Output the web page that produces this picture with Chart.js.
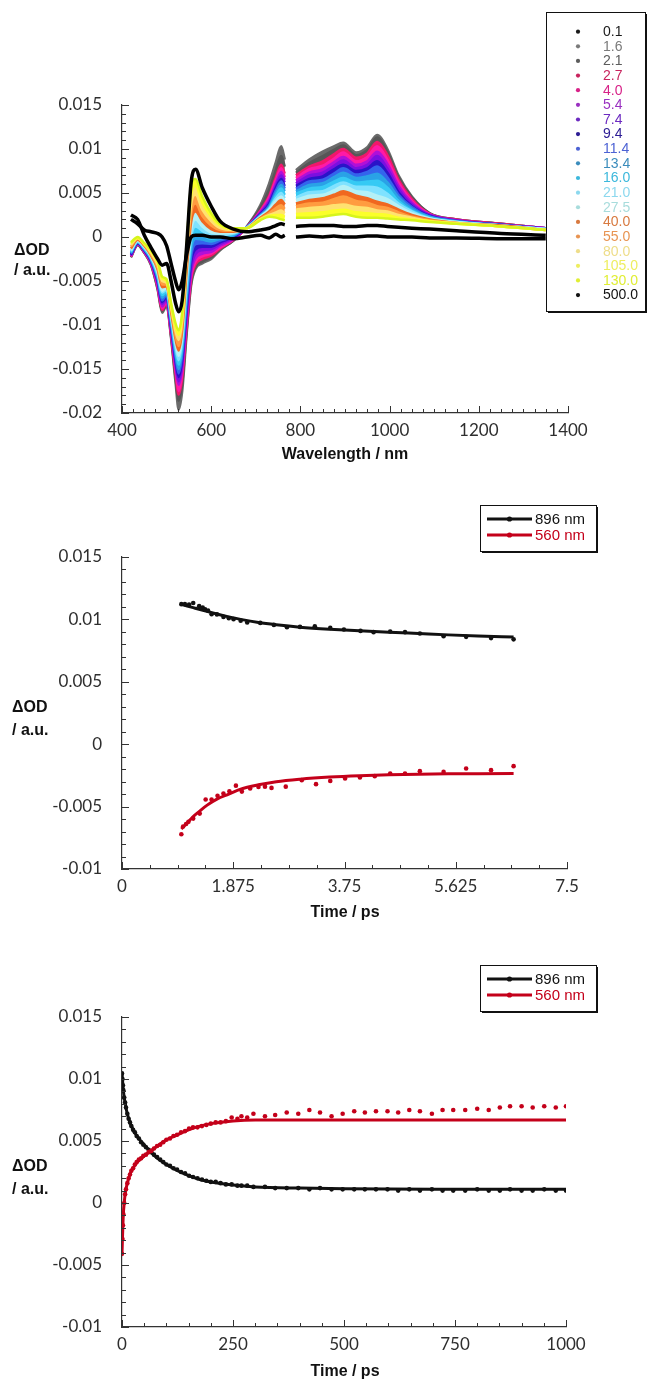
<!DOCTYPE html>
<html>
<head>
<meta charset="utf-8">
<title>Transient absorption spectra and kinetics</title>
<script src="https://cdn.jsdelivr.net/npm/chart.js@4.4.1/dist/chart.umd.min.js"></script>
<style>
  html, body { margin: 0; padding: 0; background: #fff; }
  body { width: 648px; height: 1381px; position: relative; overflow: hidden; }
  canvas { position: absolute; left: 0; }
</style>
</head>
<body>
<canvas id="spectra" width="648" height="470" style="top:0"></canvas>
<canvas id="early" width="648" height="460" style="top:470px"></canvas>
<canvas id="late" width="648" height="451" style="top:930px"></canvas>
<script>
// ---------- Transient spectra: probe wavelength grid (nm); null marks the detector gap ----------
const wavelength = [420,435,450,465,480,490,500,510,520,527,535,545,555,565,580,600,620,650,680,710,730,745,757,765,775,790,820,850,875,896,925,950,972,995,1020,1050,1090,1150,1250,1350];

// pump-probe delays (ps)
const delays = ['0.1','1.6','2.1','2.7','4.0','5.4','7.4','9.4','11.4','13.4','16.0','21.0','27.5','40.0','55.0','80.0','105.0','130.0','500.0'];

// ΔOD at each delay
const od_0p1   = [0.002,0.0015,0.0008,0.0006,0.0004,0,-0.001,-0.003,-0.005,-0.006,-0.005,-0.002,0,0.0002,0.0002,0,0,-0.0002,0,0.0002,-0.0001,0.0003,0,0.0002,null,0,0.0001,0,0.0001,0,0,0.0001,0.0001,0,0,0,-0.0001,-0.0001,-0.0002,-0.0002];
const od_1p6   = [-0.0023,-0.0009,-0.0018,-0.0032,-0.006,-0.0086,-0.0078,-0.0115,-0.0165,-0.0196,-0.0175,-0.011,-0.0055,-0.0036,-0.003,-0.0025,-0.0015,-0.0004,0.0012,0.0036,0.0061,0.0085,0.0103,0.0088,null,0.0076,0.0088,0.0097,0.0103,0.0107,0.0096,0.0102,0.0116,0.01,0.007,0.0046,0.0027,0.002,0.0015,0.001];
const od_2p1   = [-0.0023,-0.0009,-0.0018,-0.0031,-0.0059,-0.0084,-0.0077,-0.0113,-0.016,-0.0186,-0.0167,-0.0106,-0.0052,-0.0034,-0.0028,-0.0023,-0.0014,-0.0004,0.0012,0.0033,0.0054,0.0076,0.0092,0.008,null,0.0073,0.0084,0.0092,0.0099,0.0104,0.0093,0.0099,0.0113,0.0097,0.0068,0.0045,0.0027,0.002,0.0015,0.001];
const od_2p7   = [-0.0022,-0.0008,-0.0017,-0.003,-0.0057,-0.0083,-0.0075,-0.0111,-0.0155,-0.0179,-0.016,-0.0101,-0.0048,-0.0031,-0.0025,-0.0021,-0.0013,-0.0003,0.0011,0.003,0.0047,0.0068,0.0082,0.0072,null,0.007,0.008,0.0086,0.0094,0.01,0.009,0.0095,0.0108,0.0093,0.0065,0.0043,0.0026,0.002,0.0015,0.001];
const od_4p0   = [-0.0022,-0.0008,-0.0017,-0.003,-0.0056,-0.0081,-0.0074,-0.0109,-0.0151,-0.0175,-0.0155,-0.0096,-0.0045,-0.0028,-0.0022,-0.0019,-0.0012,-0.0003,0.0011,0.0029,0.0045,0.0065,0.0078,0.0068,null,0.0067,0.0077,0.0081,0.0089,0.0096,0.0086,0.0091,0.0103,0.0088,0.0062,0.0041,0.0026,0.0019,0.0014,0.001];
const od_5p4   = [-0.0021,-0.0008,-0.0016,-0.0029,-0.0054,-0.0079,-0.0072,-0.0106,-0.0147,-0.0168,-0.0149,-0.0091,-0.004,-0.0024,-0.0019,-0.0017,-0.001,-0.0002,0.0011,0.0028,0.0042,0.0061,0.0074,0.0065,null,0.0064,0.0073,0.0077,0.0085,0.0091,0.0082,0.0086,0.0097,0.0083,0.0058,0.0039,0.0025,0.0019,0.0014,0.001];
const od_7p4   = [-0.0021,-0.0007,-0.0016,-0.0028,-0.0052,-0.0076,-0.007,-0.0104,-0.0143,-0.0164,-0.0144,-0.0086,-0.0035,-0.0019,-0.0015,-0.0014,-0.0008,-0.0001,0.0011,0.0027,0.004,0.0058,0.007,0.0062,null,0.0061,0.007,0.0073,0.0081,0.0087,0.0078,0.0082,0.0092,0.0078,0.0055,0.0037,0.0025,0.0019,0.0014,0.001];
const od_9p4   = [-0.002,-0.0007,-0.0015,-0.0027,-0.005,-0.0074,-0.0068,-0.0101,-0.014,-0.0159,-0.0139,-0.008,-0.0028,-0.0014,-0.0011,-0.0011,-0.0006,0,0.0011,0.0026,0.0038,0.0056,0.0066,0.0058,null,0.0058,0.0066,0.0069,0.0077,0.0082,0.0075,0.0078,0.0086,0.0073,0.0051,0.0035,0.0024,0.0018,0.0014,0.0009];
const od_11p4  = [-0.0019,-0.0006,-0.0014,-0.0026,-0.0048,-0.0072,-0.0066,-0.0099,-0.0136,-0.0155,-0.0134,-0.0074,-0.0022,-0.0008,-0.0007,-0.0008,-0.0004,0.0001,0.0011,0.0025,0.0036,0.0053,0.0063,0.0055,null,0.0055,0.0063,0.0065,0.0072,0.0078,0.0071,0.0074,0.008,0.0068,0.0048,0.0034,0.0023,0.0018,0.0014,0.0009];
const od_13p4  = [-0.0018,-0.0006,-0.0014,-0.0025,-0.0046,-0.0069,-0.0064,-0.0096,-0.0132,-0.015,-0.0128,-0.0067,-0.0015,-0.0002,-0.0003,-0.0005,-0.0002,0.0002,0.0011,0.0024,0.0034,0.005,0.0059,0.0052,null,0.0052,0.0059,0.0061,0.0068,0.0073,0.0067,0.0069,0.0072,0.0062,0.0045,0.0032,0.0023,0.0018,0.0013,0.0009];
const od_16p0  = [-0.0017,-0.0005,-0.0013,-0.0024,-0.0044,-0.0066,-0.0062,-0.0093,-0.0128,-0.0145,-0.0123,-0.006,-0.0007,0.0005,0.0002,-0.0002,0,0.0003,0.0011,0.0024,0.0033,0.0047,0.0055,0.0048,null,0.0049,0.0055,0.0057,0.0063,0.0067,0.0062,0.0063,0.0064,0.0056,0.0041,0.003,0.0022,0.0017,0.0013,0.0009];
const od_21p0  = [-0.0016,-0.0005,-0.0012,-0.0023,-0.0042,-0.0063,-0.006,-0.009,-0.0124,-0.014,-0.0117,-0.0053,0,0.0012,0.0007,0.0002,0.0002,0.0004,0.0011,0.0023,0.0032,0.0044,0.005,0.0044,null,0.0045,0.0051,0.0052,0.0058,0.0062,0.0057,0.0057,0.0056,0.0049,0.0038,0.0029,0.0021,0.0017,0.0013,0.0009];
const od_27p5  = [-0.0015,-0.0004,-0.0011,-0.0022,-0.004,-0.0061,-0.0058,-0.0088,-0.012,-0.0135,-0.0112,-0.0046,0.0008,0.002,0.0012,0.0005,0.0004,0.0005,0.001,0.0023,0.0031,0.0041,0.0046,0.0041,null,0.0042,0.0047,0.0048,0.0053,0.0058,0.0052,0.0051,0.0047,0.0043,0.0035,0.0027,0.0021,0.0017,0.0013,0.0009];
const od_40p0  = [-0.0013,-0.0003,-0.001,-0.0021,-0.0037,-0.0057,-0.0056,-0.0085,-0.0116,-0.0129,-0.0106,-0.0038,0.0017,0.0029,0.0018,0.0009,0.0006,0.0006,0.001,0.0022,0.0029,0.0037,0.0042,0.0037,null,0.0038,0.0042,0.0044,0.0048,0.0052,0.0047,0.0044,0.004,0.0037,0.0031,0.0025,0.002,0.0016,0.0013,0.0008];
const od_55p0  = [-0.0011,-0.0002,-0.0009,-0.002,-0.0035,-0.0054,-0.0054,-0.0082,-0.0112,-0.0124,-0.01,-0.003,0.0027,0.0038,0.0024,0.0013,0.0008,0.0007,0.001,0.0021,0.0027,0.0033,0.0036,0.0032,null,0.0035,0.0038,0.0039,0.0043,0.0046,0.0041,0.0039,0.0035,0.0033,0.0028,0.0023,0.0019,0.0016,0.0012,0.0008];
const od_80p0  = [-0.0009,-0.0001,-0.0008,-0.0018,-0.0032,-0.005,-0.0052,-0.0079,-0.0107,-0.0117,-0.0094,-0.0021,0.0037,0.0048,0.0031,0.0018,0.001,0.0008,0.001,0.002,0.0025,0.0028,0.003,0.0027,null,0.0031,0.0033,0.0034,0.0036,0.0037,0.0034,0.0033,0.003,0.0029,0.0025,0.0022,0.0018,0.0016,0.0012,0.0008];
const od_105p0 = [-0.0007,-0.0001,-0.0008,-0.0016,-0.0029,-0.0047,-0.005,-0.0077,-0.0102,-0.0111,-0.0089,-0.0014,0.0048,0.0058,0.0039,0.0023,0.0013,0.0009,0.001,0.002,0.0024,0.0025,0.0025,0.0023,null,0.0026,0.0027,0.0028,0.003,0.0031,0.0028,0.0027,0.0026,0.0025,0.0022,0.002,0.0018,0.0015,0.0012,0.0008];
const od_130p0 = [-0.0006,0,-0.0007,-0.0015,-0.0027,-0.0045,-0.0048,-0.0075,-0.0098,-0.0106,-0.0085,-0.0008,0.0058,0.0066,0.0046,0.0027,0.0015,0.001,0.001,0.0019,0.0023,0.0022,0.002,0.0019,null,0.0022,0.0022,0.0023,0.0025,0.0026,0.0023,0.0022,0.0022,0.0021,0.002,0.0019,0.0017,0.0015,0.0012,0.0008];
const od_500p0 = [0.0025,0.002,0.0002,-0.0012,-0.0025,-0.0032,-0.003,-0.005,-0.0075,-0.0085,-0.0072,-0.001,0.0062,0.0077,0.0056,0.0035,0.0018,0.0009,0.0006,0.0008,0.001,0.0013,0.0015,0.0014,null,0.0012,0.0013,0.0013,0.0013,0.0012,0.0012,0.0013,0.0013,0.0012,0.0011,0.001,0.0009,0.0007,0.0004,0.0002];

// ---------- Early kinetics (0 - 7.5 ps) ----------
const early_t896  = [1.00,1.06,1.13,1.20,1.30,1.36,1.40,1.45,1.51,1.60,1.71,1.80,1.88,2.00,2.11,2.33,2.56,2.78,3.00,3.25,3.51,3.74,4.02,4.24,4.52,4.77,5.02,5.42,5.80,6.22,6.60];
const early_od896 = [0.01122,0.01122,0.01118,0.01132,0.01106,0.01095,0.0108,0.0107,0.01042,0.0104,0.0102,0.0101,0.01002,0.0099,0.00975,0.00972,0.00956,0.00937,0.0094,0.00945,0.00932,0.00919,0.00908,0.00898,0.00903,0.00898,0.00887,0.00865,0.0086,0.0085,0.0084];
const early_t560  = [1.00,1.03,1.08,1.12,1.20,1.31,1.41,1.51,1.61,1.71,1.81,1.92,2.02,2.16,2.30,2.41,2.52,2.76,3.03,3.27,3.51,3.76,4.01,4.26,4.52,4.77,5.02,5.42,5.80,6.22,6.60];
const early_od560 = [-0.00721,-0.0066,-0.0064,-0.00622,-0.00596,-0.00556,-0.00443,-0.00443,-0.00414,-0.00395,-0.00377,-0.00332,-0.0038,-0.00355,-0.00342,-0.0034,-0.0035,-0.0034,-0.00288,-0.0032,-0.00294,-0.00275,-0.00267,-0.00256,-0.00235,-0.00235,-0.00216,-0.00222,-0.00195,-0.00208,-0.00176];
const early_fit_t   = [1.0,1.1,1.2,1.3,1.43,1.6,1.8,2.0,2.3,2.6,3.0,3.5,4.0,4.5,5.0,5.5,6.0,6.6];
const early_fit896  = [0.0112,0.01107,0.01094,0.01081,0.01064,0.01043,0.0102,0.01,0.00975,0.00957,0.00938,0.00922,0.0091,0.00898,0.00887,0.00876,0.00867,0.00858];
const early_fit560  = [-0.0068,-0.0063,-0.0058,-0.0054,-0.0049,-0.0044,-0.004,-0.0036,-0.00325,-0.003,-0.0028,-0.00263,-0.00252,-0.00245,-0.0024,-0.00237,-0.00236,-0.00235];

// ---------- Long-time kinetics (0 - 1000 ps) ----------
const late_t = [0,1,2,3,5,7,9,12,15,18,21,25,29,33,38,43,48,54,60,66,72,79,86,93,100,108,116,124,133,142,151,160,170,180,190,200,211,222,234,247,260,269,282,296,322,345,371,397,422,446,472,497,523,547,572,598,622,647,671,698,722,746,773,800,826,851,874,900,925,951,977,1000];
const late_od896 = [0.01045,0.01,0.0095,0.0091,0.0085,0.0081,0.0077,0.0072,0.0068,0.0065,0.0062,0.0059,0.0057,0.0054,0.0052,0.0049,0.0047,0.0045,0.0043,0.0041,0.0039,0.0037,0.0035,0.0033,0.0031,0.003,0.0028,0.0027,0.0025,0.0024,0.0022,0.0021,0.002,0.0019,0.0018,0.0017,0.0017,0.0016,0.0015,0.0015,0.0014,0.0014,0.0014,0.0013,0.0013,0.0012,0.0012,0.0012,0.0011,0.0012,0.0011,0.0011,0.0011,0.0011,0.0011,0.0011,0.001,0.0011,0.001,0.0011,0.001,0.001,0.001,0.0011,0.001,0.001,0.0011,0.001,0.001,0.0011,0.001,0.001];
const late_od560 = [-0.0041,-0.0029,-0.0018,-0.0009,0,0.0007,0.0011,0.0016,0.002,0.0023,0.0026,0.0028,0.0031,0.0033,0.0035,0.0036,0.0038,0.0039,0.0041,0.0042,0.0044,0.0046,0.0047,0.0049,0.0051,0.0052,0.0054,0.0055,0.0057,0.0058,0.006,0.0061,0.0061,0.0062,0.0063,0.0064,0.0065,0.0065,0.0066,0.0069,0.0068,0.007,0.0069,0.0072,0.007,0.0071,0.0073,0.0072,0.0075,0.0073,0.007,0.0072,0.0074,0.0073,0.0074,0.0074,0.0073,0.0075,0.0074,0.0072,0.0075,0.0075,0.0075,0.0076,0.0075,0.0077,0.0078,0.0078,0.0077,0.0078,0.0077,0.0078];
const late_fit_t  = [0,1,2,3,5,7,10,15,20,30,40,50,65,80,100,125,150,175,200,250,300,400,500,700,1000];
const late_fit896 = [0.0105,0.01,0.0095,0.0091,0.0085,0.0081,0.0075,0.0068,0.0063,0.0056,0.0051,0.0047,0.0041,0.0036,0.0031,0.0026,0.0022,0.0019,0.0017,0.00145,0.0013,0.0012,0.00115,0.0011,0.0011];
const late_fit560 = [-0.0041,-0.0029,-0.0018,-0.0009,0,0.0007,0.0013,0.002,0.0025,0.0031,0.0035,0.0038,0.0042,0.0046,0.0051,0.0055,0.0059,0.0062,0.0064,0.00662,0.0067,0.0067,0.0067,0.0067,0.0067];

// ---------- styling ----------
const spectraSeries = [od_0p1,od_1p6,od_2p1,od_2p7,od_4p0,od_5p4,od_7p4,od_9p4,od_11p4,od_13p4,od_16p0,od_21p0,od_27p5,od_40p0,od_55p0,od_80p0,od_105p0,od_130p0,od_500p0];
const lineColors   = ['#000000','#6b6b6b','#575757','#f0186a','#ff1aa6','#b010d8','#7a10e0','#2a14c8','#3464ec','#2aa2e6','#36caf4','#7fe2ff','#b4f0f6','#f06820','#ff9c40','#ffe270','#fbff2a','#d6f51c','#000000'];
const legendColors = ['#1a1a1a','#7a7a7a','#5c5c5c','#c8245e','#d82288','#9a30c0','#6c2ac0','#2c1c94','#4c62d4','#3a8cbc','#3cb8dc','#8cd8ee','#a8dcdc','#d87a40','#e89452','#eedd8a','#eeee60','#e0ee34','#111111'];
const BLACK = '#111111';
const RED = '#c4001a';

const tickFont = { family: 'Lato, "Open Sans", sans-serif', size: 17 };
const titleFont = 'bold 16px "Liberation Sans", Arial, sans-serif';
const legendFont = '14px "Liberation Sans", Arial, sans-serif';
const fmt = v => String(+Number(v).toFixed(4));

// inward major/minor tick marks along the left and bottom axes
const inTicks = {
  id: 'inTicks',
  afterDatasetsDraw(chart, args, o) {
    const { ctx, chartArea: a, scales: { x, y } } = chart;
    ctx.save();
    ctx.strokeStyle = '#333';
    ctx.lineWidth = 1;
    ctx.beginPath();
    const nx = Math.round((x.max - x.min) / o.xMinor);
    for (let k = 0; k <= nx; k++) {
      const v = x.min + k * o.xMinor;
      const r = v / o.xMajor;
      const len = Math.abs(r - Math.round(r)) < 1e-6 ? 7 : 4;
      const px = Math.round(x.getPixelForValue(v)) + 0.5;
      ctx.moveTo(px, a.bottom);
      ctx.lineTo(px, a.bottom - len);
    }
    const ny = Math.round((y.max - y.min) / o.yMinor);
    for (let k = 0; k <= ny; k++) {
      const v = y.min + k * o.yMinor;
      const r = v / o.yMajor;
      const len = Math.abs(r - Math.round(r)) < 1e-6 ? 7 : 4;
      const py = Math.round(y.getPixelForValue(v)) + 0.5;
      ctx.moveTo(a.left, py);
      ctx.lineTo(a.left + len, py);
    }
    ctx.stroke();
    ctx.restore();
  }
};

// axis captions and boxed legends
const annotate = {
  id: 'annotate',
  afterDraw(chart, args, o) {
    const ctx = chart.ctx;
    ctx.save();
    ctx.textBaseline = 'middle';
    for (const t of o.texts) {
      ctx.font = titleFont;
      ctx.fillStyle = '#111';
      ctx.textAlign = t.align || 'left';
      ctx.fillText(t.text, t.x, t.y);
    }
    const b = o.box;
    ctx.fillStyle = '#111';
    ctx.fillRect(b.x + 2, b.y + 2, b.w, b.h);
    ctx.fillStyle = '#fff';
    ctx.fillRect(b.x, b.y, b.w, b.h);
    ctx.strokeStyle = '#111';
    ctx.lineWidth = 1;
    ctx.strokeRect(b.x + 0.5, b.y + 0.5, b.w, b.h);
    ctx.font = o.font;
    ctx.textAlign = 'left';
    o.items.forEach((it, i) => {
      const yy = o.y0 + i * o.dy;
      ctx.fillStyle = it.mark;
      if (o.kind === 'line') {
        ctx.strokeStyle = it.mark;
        ctx.lineWidth = 3;
        ctx.beginPath();
        ctx.moveTo(o.lineX0, yy);
        ctx.lineTo(o.lineX1, yy);
        ctx.stroke();
        ctx.beginPath();
        ctx.arc((o.lineX0 + o.lineX1) / 2, yy, 2.6, 0, Math.PI * 2);
        ctx.fill();
      } else {
        ctx.beginPath();
        ctx.arc(o.dotX, yy, 2.1, 0, Math.PI * 2);
        ctx.fill();
      }
      ctx.fillStyle = it.color;
      ctx.fillText(it.label, o.textX, yy + 0.5);
    });
    ctx.restore();
  }
};

function axes(xCfg, yCfg) {
  return {
    x: {
      type: 'linear', min: xCfg.min, max: xCfg.max,
      afterFit: s => { s.height = xCfg.height; },
      grid: { display: false },
      border: { display: true, color: '#333', width: 1.2 },
      ticks: { stepSize: xCfg.step, padding: -1, font: tickFont, color: '#2e2e2e',
               maxRotation: 0, autoSkip: false, callback: fmt }
    },
    y: {
      type: 'linear', min: yCfg.min, max: yCfg.max,
      afterFit: s => { s.width = 122; },
      grid: { display: false },
      border: { display: true, color: '#333', width: 1.2 },
      ticks: { stepSize: yCfg.step, padding: 12, font: tickFont, color: '#2e2e2e', callback: fmt }
    }
  };
}

const toPoints = (xs, ys) => xs.map((v, k) => ({ x: v, y: ys[k] }));

// ---------- chart 1: spectra ----------
const spectraSets = spectraSeries.map((vals, i) => ({
  label: delays[i],
  data: toPoints(wavelength, vals),
  borderColor: lineColors[i],
  backgroundColor: lineColors[i],
  borderWidth: (i === 0 || i === spectraSeries.length - 1) ? 3.5 : 2.5,
  pointRadius: 0,
  cubicInterpolationMode: 'monotone',
  spanGaps: false,
  fill: (i >= 1 && i <= spectraSeries.length - 3) ? '+1' : false,
  order: i === 0 ? 0 : spectraSeries.length - i
}));

new Chart(document.getElementById('spectra'), {
  type: 'line',
  data: { datasets: spectraSets },
  options: {
    responsive: false, animation: false, events: [],
    layout: { padding: { top: 105, right: 80, bottom: 0, left: 0 } },
    scales: axes({ min: 400, max: 1400, step: 200, height: 57 }, { min: -0.02, max: 0.015, step: 0.005 }),
    plugins: {
      legend: { display: false }, tooltip: { enabled: false },
      inTicks: { xMajor: 200, xMinor: 25, yMajor: 0.005, yMinor: 0.001 },
      annotate: {
        texts: [
          { text: 'ΔOD', x: 14, y: 251 },
          { text: '/ a.u.', x: 14, y: 271 },
          { text: 'Wavelength / nm', x: 345, y: 455, align: 'center' }
        ],
        box: { x: 546, y: 12, w: 99, h: 299 },
        kind: 'dot', dotX: 578, textX: 603, y0: 31.7, dy: 14.63, font: legendFont,
        items: delays.map((d, i) => ({ label: d, color: legendColors[i], mark: legendColors[i] }))
      }
    }
  },
  plugins: [inTicks, annotate]
});

// ---------- kinetics charts ----------
function kineticsSets(t896, od896, t560, od560, ft, f896, f560) {
  return [
    { label: '560 nm fit', data: toPoints(ft, f560), borderColor: RED, borderWidth: 3, pointRadius: 0, cubicInterpolationMode: 'monotone', fill: false, order: 1 },
    { label: '560 nm', data: toPoints(t560, od560), showLine: false, pointRadius: 2.3, pointBorderWidth: 0, pointBackgroundColor: RED, borderColor: RED, order: 0 },
    { label: '896 nm fit', data: toPoints(ft, f896), borderColor: BLACK, borderWidth: 3, pointRadius: 0, cubicInterpolationMode: 'monotone', fill: false, order: 3 },
    { label: '896 nm', data: toPoints(t896, od896), showLine: false, pointRadius: 2.3, pointBorderWidth: 0, pointBackgroundColor: BLACK, borderColor: BLACK, order: 2 }
  ];
}

function kineticsLegend(titleY1, titleY2, axisTitleY) {
  return {
    texts: [
      { text: 'ΔOD', x: 12, y: titleY1 },
      { text: '/ a.u.', x: 12, y: titleY2 },
      { text: 'Time / ps', x: 345, y: axisTitleY, align: 'center' }
    ],
    box: { x: 480, y: 35, w: 116, h: 46 },
    kind: 'line', lineX0: 487, lineX1: 532, textX: 535, y0: 49, dy: 16,
    font: '15px "Liberation Sans", Arial, sans-serif',
    items: [
      { label: '896 nm', color: BLACK, mark: BLACK },
      { label: '560 nm', color: RED, mark: RED }
    ]
  };
}

new Chart(document.getElementById('early'), {
  type: 'line',
  data: { datasets: kineticsSets(early_t896, early_od896, early_t560, early_od560, early_fit_t, early_fit896, early_fit560) },
  options: {
    responsive: false, animation: false, events: [],
    layout: { padding: { top: 87, right: 81, bottom: 0, left: 0 } },
    scales: axes({ min: 0, max: 7.5, step: 1.875, height: 61 }, { min: -0.01, max: 0.015, step: 0.005 }),
    plugins: {
      legend: { display: false }, tooltip: { enabled: false },
      inTicks: { xMajor: 1.875, xMinor: 0.46875, yMajor: 0.005, yMinor: 0.001 },
      annotate: kineticsLegend(238, 261, 443)
    }
  },
  plugins: [inTicks, annotate]
});

new Chart(document.getElementById('late'), {
  type: 'line',
  data: { datasets: kineticsSets(late_t, late_od896, late_t, late_od560, late_fit_t, late_fit896, late_fit560) },
  options: {
    responsive: false, animation: false, events: [],
    layout: { padding: { top: 87, right: 82, bottom: 0, left: 0 } },
    scales: axes({ min: 0, max: 1000, step: 250, height: 54 }, { min: -0.01, max: 0.015, step: 0.005 }),
    plugins: {
      legend: { display: false }, tooltip: { enabled: false },
      inTicks: { xMajor: 250, xMinor: 50, yMajor: 0.005, yMinor: 0.001 },
      annotate: kineticsLegend(237, 260, 442)
    }
  },
  plugins: [inTicks, annotate]
});
</script>
</body>
</html>
